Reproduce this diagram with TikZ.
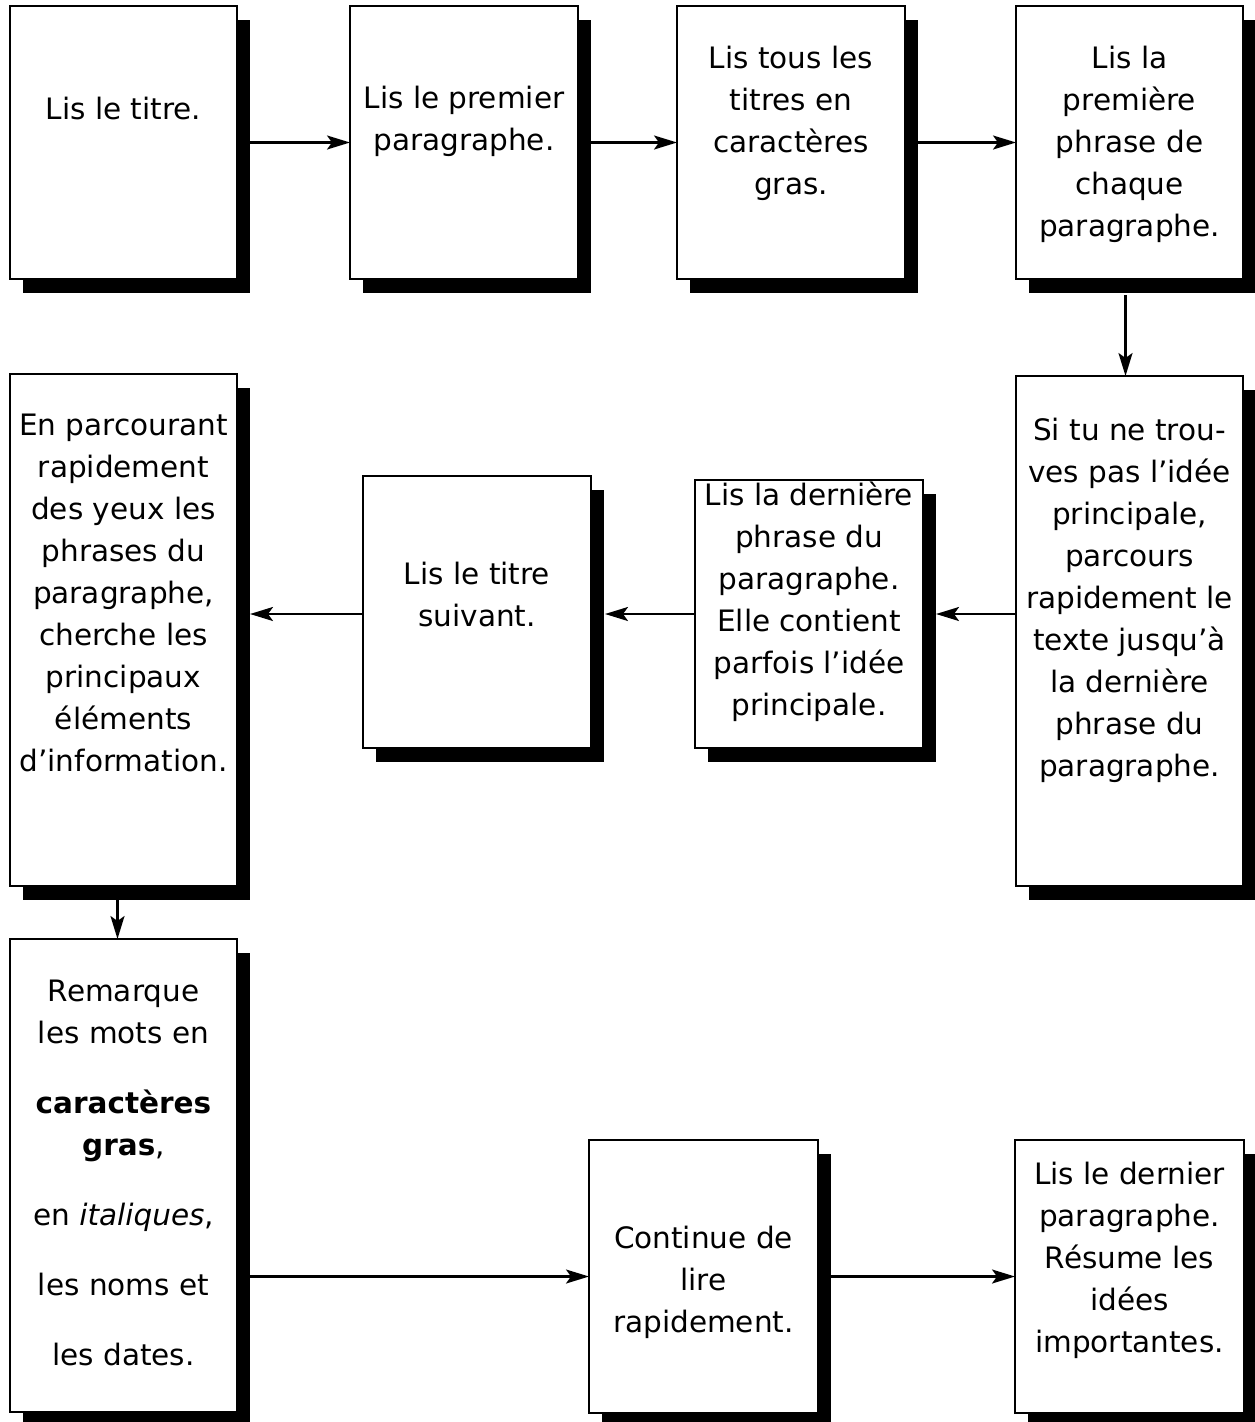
\documentclass[tikz,border=0pt]{standalone}
\usepackage{fontspec}
\setmainfont{DejaVu Sans}
\usetikzlibrary{shadows,arrows.meta}
\tikzset{
  box/.style={draw=black, line width=2.1pt, fill=white, inner sep=0pt, outer sep=0pt,
    drop shadow={shadow xshift=13pt, shadow yshift=-14pt, fill=black, opacity=1}},
  txt/.style={align=center, inner sep=0pt, font=\fontsize{29.5}{42}\selectfont,
    execute at begin node=\strut, execute at end node=\strut},
  arr/.style={line width=2.2pt, -{Stealth[length=23pt,width=14pt,inset=5pt]}}
}
\begin{document}
\begin{tikzpicture}[x=1pt,y=-1pt]
\fill[white] (0,0) rectangle (1254,1422);
\useasboundingbox (0,0) rectangle (1254,1422);
% boxes
\node[box, minimum width=227pt, minimum height=273pt] (A) at (123.5,142.5) {};
\node[box, minimum width=228pt, minimum height=273pt] (B) at (464,142.5) {};
\node[box, minimum width=228pt, minimum height=273pt] (C) at (791,142.5) {};
\node[box, minimum width=227pt, minimum height=273pt] (D) at (1129.5,142.5) {};
\node[box, minimum width=227pt, minimum height=512pt] (E) at (123.5,630) {};
\node[box, minimum width=228pt, minimum height=272pt] (F) at (477,612) {};
\node[box, minimum width=228pt, minimum height=268pt] (G) at (809,614) {};
\node[box, minimum width=227pt, minimum height=510pt] (H) at (1129.5,631) {};
\node[box, minimum width=227pt, minimum height=473pt] (I) at (123.5,1175.5) {};
\node[box, minimum width=229pt, minimum height=273pt] (J) at (703.5,1276.5) {};
\node[box, minimum width=229pt, minimum height=273pt] (K) at (1129.5,1276.5) {};
% texts
\node[txt] (tA) at (123.5,111) {Lis le titre.};
\node[txt] (tB) at (464,125) {Lis le premier\\paragraphe.};
\node[txt] (tC) at (791,127) {Lis tous les\\titres en\\caractères\\gras.};
\node[txt] (tD) at (1129.5,148) {Lis la\\première\\phrase de\\chaque\\paragraphe.};
\node[txt] (tE) at (123.5,599) {En parcourant\\rapidement\\des yeux les\\phrases du\\paragraphe,\\cherche les\\principaux\\éléments\\d’information.};
\node[txt] (tF) at (477,601) {Lis le titre\\suivant.};
\node[txt] (tG) at (809,605) {Lis la dernière\\phrase du\\paragraphe.\\Elle contient\\parfois l’idée\\principale.};
\node[txt] (tH) at (1129.5,604) {Si tu ne trou-\\ves pas l’idée\\principale,\\parcours\\rapidement le\\texte jusqu’à\\la dernière\\phrase du\\paragraphe.};
\node[txt] (tI) at (123.5,1179) {Remarque\\les mots en\\[28pt]\textbf{caractères}\\\textbf{gras},\\[28pt]en \textit{italiques},\\[28pt]les noms et\\[28pt]les dates.};
\node[txt] (tJ) at (703.5,1286) {Continue de\\lire\\rapidement.};
\node[txt] (tK) at (1129.5,1264) {Lis le dernier\\paragraphe.\\Résume les\\idées\\importantes.};
% arrows
\draw[arr] ([xshift=13pt]A.east) -- (B.west);
\draw[arr] ([xshift=13pt]B.east) -- (C.west);
\draw[arr] ([xshift=13pt]C.east) -- (D.west);
\draw[arr] ([xshift=-4pt,yshift=-16pt]D.south) -- ([xshift=-4pt]H.north);
\draw[arr] (H.west |- G.east) -- ([xshift=13pt]G.east);
\draw[arr] (G.west) -- ([xshift=14pt]F.east |- G.west);
\draw[arr] (F.west |- G.west) -- ([xshift=13pt]E.east |- G.west);
\draw[arr] ([xshift=-6pt,yshift=-13pt]E.south) -- ([xshift=-6pt]I.north);
\draw[arr] ([xshift=13pt]I.east |- J.west) -- (J.west);
\draw[arr] ([xshift=13pt]J.east) -- (K.west);
\end{tikzpicture}
\end{document}
